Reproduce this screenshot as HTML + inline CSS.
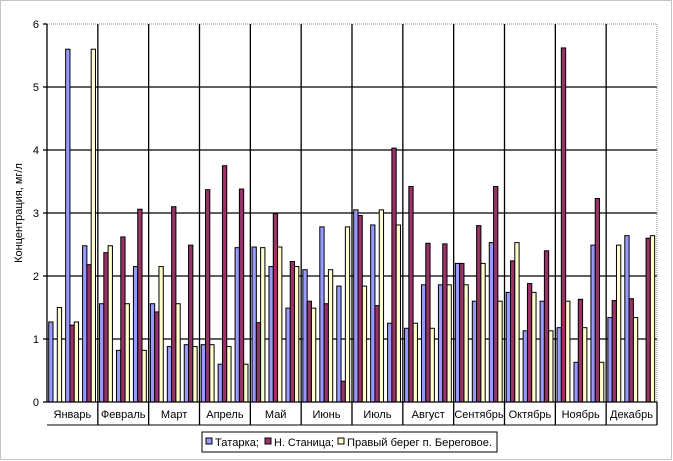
<!DOCTYPE html>
<html><head><meta charset="utf-8"><style>body{margin:0;background:#fff}svg{display:block}text{font-family:"Liberation Sans",sans-serif;font-size:11px;fill:#000}</style></head>
<body>
<svg id="s" width="673" height="461" viewBox="0 0 673 461" xmlns="http://www.w3.org/2000/svg">
<rect x="0.5" y="0.5" width="671" height="459" fill="#fff" stroke="#888" stroke-dasharray="1,1"/>
<g stroke="#000" stroke-width="1.3">
<line x1="47" y1="24" x2="657" y2="24" stroke="#888" stroke-dasharray="1,1" stroke-width="1"/>
<line x1="47" y1="87" x2="657" y2="87"/><line x1="47" y1="150" x2="657" y2="150"/><line x1="47" y1="213" x2="657" y2="213"/><line x1="47" y1="276" x2="657" y2="276"/><line x1="47" y1="339" x2="657" y2="339"/>
<line x1="657" y1="24" x2="657" y2="402" stroke="#888" stroke-dasharray="1,1" stroke-width="1"/>
</g>
<g id="vl" stroke="#000" stroke-width="1.3"></g>
<g id="bars" stroke="#000" stroke-width="1"></g>
<g stroke="#000" stroke-width="1.3">
<line x1="47" y1="24" x2="47" y2="402"/><line x1="43" y1="402" x2="657" y2="402"/>
<line x1="43" y1="24" x2="47" y2="24"/><line x1="43" y1="87" x2="47" y2="87"/><line x1="43" y1="150" x2="47" y2="150"/><line x1="43" y1="213" x2="47" y2="213"/><line x1="43" y1="276" x2="47" y2="276"/><line x1="43" y1="339" x2="47" y2="339"/>
<line x1="47" y1="425" x2="657" y2="425" stroke-width="1"/>
</g>
<g text-anchor="end"><text x="39" y="28">6</text><text x="39" y="91">5</text><text x="39" y="154">4</text><text x="39" y="217">3</text><text x="39" y="280">2</text><text x="39" y="343">1</text><text x="39" y="406">0</text></g>
<text transform="translate(22,213) rotate(-90)" text-anchor="middle" font-size="10.5">Концентрация, мг/л</text>
<g text-anchor="middle" font-size="11.5">
<text x="72.4" y="418">Январь</text><text x="123.2" y="418">Февраль</text><text x="174.1" y="418">Март</text><text x="224.9" y="418">Апрель</text><text x="275.7" y="418">Май</text><text x="326.5" y="418">Июнь</text><text x="377.4" y="418">Июль</text><text x="428.2" y="418">Август</text><text x="479" y="418">Сентябрь</text><text x="529.9" y="418">Октябрь</text><text x="580.7" y="418">Ноябрь</text><text x="631.5" y="418">Декабрь</text>
</g>
<rect x="202" y="432" width="295" height="20" fill="#fff" stroke="#000"/>
<rect x="206" y="438" width="6" height="6" fill="#9999ff" stroke="#000"/><text x="215" y="446" textLength="44" lengthAdjust="spacingAndGlyphs">Татарка;</text>
<rect x="265" y="438" width="6" height="6" fill="#993366" stroke="#000"/><text x="274" y="446" textLength="60" lengthAdjust="spacingAndGlyphs">Н. Станица;</text>
<rect x="338" y="438" width="6" height="6" fill="#ffffcc" stroke="#000"/><text x="347" y="446" textLength="145" lengthAdjust="spacingAndGlyphs">Правый берег п. Береговое.</text>
</svg>
<script>
var d=[[1.27,0,1.5],[5.6,1.22,1.27],[2.48,2.18,5.6],[1.56,2.37,2.48],[0.82,2.62,1.56],[2.15,3.06,0.82],[1.56,1.43,2.15],[0.88,3.1,1.56],[0.91,2.49,0.88],[0.91,3.37,0.91],[0.6,3.75,0.88],[2.45,3.38,0.6],[2.46,1.26,2.45],[2.15,2.99,2.46],[1.49,2.23,2.15],[2.1,1.6,1.49],[2.78,1.56,2.1],[1.84,0.33,2.78],[3.05,2.96,1.84],[2.81,1.53,3.05],[1.25,4.03,2.81],[1.17,3.42,1.25],[1.86,2.52,1.17],[1.86,2.51,1.86],[2.2,2.2,1.86],[1.6,2.8,2.2],[2.53,3.42,1.6],[1.74,2.24,2.53],[1.13,1.88,1.74],[1.6,2.4,1.13],[1.18,5.62,1.6],[0.63,1.63,1.18],[2.49,3.23,0.63],[1.34,1.61,2.49],[2.64,1.64,1.34],[0,2.6,2.64]];
var c=["#9999ff","#993366","#ffffcc"],ns="http://www.w3.org/2000/svg",g=document.getElementById("bars"),v=document.getElementById("vl");
var cw=610/36,bw=4.3;
for(var m=1;m<12;m++){var x=47+m*cw*3,l=document.createElementNS(ns,"line");l.setAttribute("x1",x);l.setAttribute("x2",x);l.setAttribute("y1",24);l.setAttribute("y2",425);v.appendChild(l);}
var l2=document.createElementNS(ns,"line");l2.setAttribute("x1",657);l2.setAttribute("x2",657);l2.setAttribute("y1",402);l2.setAttribute("y2",425);v.appendChild(l2);
for(var i=0;i<36;i++)for(var k=0;k<3;k++){var val=d[i][k];if(!val)continue;var r=document.createElementNS(ns,"rect");var h=val*63;r.setAttribute("x",47+i*cw+1.7+k*bw);r.setAttribute("y",402-h);r.setAttribute("width",bw);r.setAttribute("height",h);r.setAttribute("fill",c[k]);g.appendChild(r);}
</script>
</body></html>
